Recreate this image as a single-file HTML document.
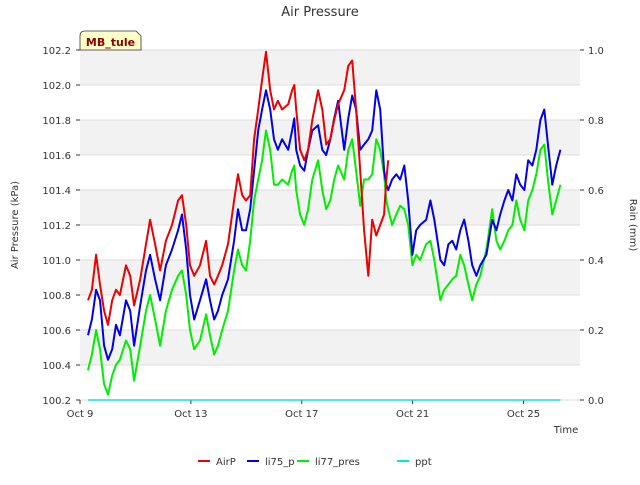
<!DOCTYPE html>
<html><head><meta charset="utf-8"><style>
body{margin:0;background:#fff;font-family:"Liberation Sans","DejaVu Sans",sans-serif}
svg text{font-family:"DejaVu Sans","Liberation Sans",sans-serif}
</style></head><body>
<svg id="chart" width="640" height="480" xmlns="http://www.w3.org/2000/svg">
<g id="bands"></g>
<g id="grid"></g>
<g id="axes"></g>
<g id="series"></g>
<text x="320" y="16" text-anchor="middle" font-size="13" fill="#333">Air Pressure</text>
<text transform="translate(18,225) rotate(-90)" text-anchor="middle" font-size="10" fill="#333">Air Pressure (kPa)</text>
<text transform="translate(630,225) rotate(90)" text-anchor="middle" font-size="10" fill="#333">Rain (mm)</text>
<text x="566" y="433" text-anchor="middle" font-size="10" fill="#333">Time</text>
<g>
<path d="M80,50 L80,36 Q80,31 85,31 L136,31 L141,36 L141,50 Z" fill="#ffffc8" stroke="#333" stroke-width="0.8"/>
<text x="110.5" y="46" text-anchor="middle" font-size="11" font-weight="bold" fill="#8b0000">MB_tule</text>
</g>
<g id="legend"></g>
</svg>
<script>
const days=[0.29,0.43,0.58,0.72,0.87,1.01,1.16,1.30,1.44,1.66,1.81,1.95,2.17,2.38,2.53,2.71,2.89,3.10,3.32,3.54,3.68,3.83,3.97,4.12,4.33,4.55,4.69,4.84,4.98,5.13,5.34,5.56,5.70,5.85,5.99,6.14,6.28,6.43,6.57,6.71,6.86,7.00,7.14,7.29,7.51,7.65,7.73,7.80,7.94,8.09,8.23,8.38,8.59,8.74,8.88,9.03,9.17,9.31,9.53,9.68,9.82,9.96,10.11,10.25,10.40,10.54,10.69,10.83,10.97,11.05,11.12,11.26,11.41,11.55,11.70,11.84,11.99,12.13,12.27,12.49,12.64,12.78,13.00,13.14,13.29,13.43,13.57,13.72,13.86,14.01,14.15,14.30,14.44,14.66,14.87,15.02,15.16,15.31,15.45,15.60,15.74,15.88,16.03,16.17,16.32,16.46,16.61,16.75,16.90,17.04,17.18,17.33];
const airP=[100.77,100.83,101.03,100.86,100.71,100.63,100.77,100.83,100.80,100.97,100.91,100.74,100.89,101.09,101.23,101.09,100.94,101.11,101.20,101.34,101.37,101.20,100.97,100.91,100.97,101.11,100.91,100.86,100.91,100.97,101.09,101.34,101.49,101.37,101.34,101.37,101.69,101.86,102.03,102.19,101.97,101.86,101.91,101.86,101.89,101.97,102.00,101.86,101.63,101.57,101.63,101.80,101.97,101.86,101.66,101.69,101.80,101.89,101.97,102.11,102.14,101.86,101.51,101.17,100.91,101.23,101.14,101.20,101.26,101.46,101.57];
const li75=[100.57,100.66,100.83,100.77,100.51,100.43,100.49,100.63,100.57,100.77,100.71,100.51,100.74,100.94,101.03,100.89,100.77,100.97,101.06,101.17,101.26,101.06,100.80,100.66,100.77,100.89,100.77,100.66,100.71,100.80,100.89,101.11,101.29,101.17,101.17,101.29,101.51,101.74,101.86,101.97,101.86,101.69,101.63,101.69,101.63,101.74,101.81,101.63,101.54,101.51,101.63,101.74,101.77,101.63,101.60,101.69,101.81,101.91,101.63,101.81,101.94,101.86,101.63,101.66,101.69,101.74,101.97,101.86,101.51,101.43,101.40,101.46,101.49,101.46,101.54,101.34,101.03,101.17,101.20,101.23,101.34,101.23,101.00,100.97,101.09,101.11,101.06,101.17,101.23,101.11,100.97,100.91,100.97,101.03,101.23,101.17,101.26,101.34,101.40,101.34,101.49,101.43,101.40,101.57,101.54,101.63,101.80,101.86,101.63,101.43,101.54,101.63];
const li77=[100.37,100.46,100.60,100.49,100.29,100.23,100.34,100.40,100.43,100.54,100.49,100.31,100.51,100.71,100.80,100.66,100.51,100.71,100.83,100.91,100.94,100.80,100.60,100.49,100.54,100.69,100.57,100.46,100.51,100.60,100.71,100.94,101.06,100.97,100.94,101.11,101.34,101.46,101.57,101.74,101.63,101.43,101.43,101.46,101.43,101.51,101.54,101.40,101.26,101.20,101.29,101.46,101.57,101.40,101.29,101.34,101.46,101.54,101.46,101.63,101.69,101.51,101.31,101.46,101.46,101.49,101.69,101.63,101.49,101.34,101.29,101.20,101.26,101.31,101.29,101.20,100.97,101.03,101.00,101.09,101.11,101.00,100.77,100.83,100.86,100.89,100.91,101.03,100.97,100.86,100.77,100.86,100.91,101.06,101.29,101.11,101.06,101.11,101.17,101.20,101.34,101.23,101.17,101.34,101.40,101.49,101.63,101.66,101.43,101.26,101.34,101.43];
const pptDays=[0.29,17.33];
const ppt=[0,0];
const yTicks=[100.2,100.4,100.6,100.8,101.0,101.2,101.4,101.6,101.8,102.0,102.2];
const y2Ticks=[0,0.2,0.4,0.6,0.8,1.0];
const xTickDays=[0,4,8,12,16];
const xTickLabels=["Oct 9","Oct 13","Oct 17","Oct 21","Oct 25"];
const NS="http://www.w3.org/2000/svg";
const L=80,R=580,T=50,B=400;
const x=d=>L+d*27.72;
const y=v=>B-(v-100.2)*175;
const y2=v=>B-v*350;
function mk(tag,parent){const e=document.createElementNS(NS,tag);document.getElementById(parent).appendChild(e);return e;}
for(let i=0;i<yTicks.length-1;i++){
  if(i%2===1){const r=mk('rect','bands');
    
    
    r.setAttribute('x',L);r.setAttribute('width',R-L);
    r.setAttribute('y',y(yTicks[i+1]));r.setAttribute('height',y(yTicks[i])-y(yTicks[i+1]));r.setAttribute('fill','#f2f2f2');}
}
yTicks.forEach(v=>{
  const g=mk('line','grid');
  
  
  g.setAttribute('x1',L);g.setAttribute('x2',R);g.setAttribute('y1',y(v));g.setAttribute('y2',y(v));g.setAttribute('stroke','#dcdcdc');g.setAttribute('stroke-width','1');
  const t=mk('line','axes');
  
  
  t.setAttribute('x1',L-4);t.setAttribute('x2',L);t.setAttribute('y1',y(v));t.setAttribute('y2',y(v));t.setAttribute('stroke','#333');
  const tx=mk('text','axes');
  
  
  tx.setAttribute('x',L-9);tx.setAttribute('y',y(v)+4);tx.setAttribute('text-anchor','end');tx.setAttribute('font-size','10');tx.setAttribute('fill','#333');tx.textContent=v.toFixed(1);
});
y2Ticks.forEach(v=>{
  const t=mk('line','axes');
  
  
  t.setAttribute('x1',R);t.setAttribute('x2',R+4);t.setAttribute('y1',y2(v));t.setAttribute('y2',y2(v));t.setAttribute('stroke','#333');
  const tx=mk('text','axes');
  
  
  tx.setAttribute('x',R+8);tx.setAttribute('y',y2(v)+4);tx.setAttribute('font-size','10');tx.setAttribute('fill','#333');tx.textContent=v.toFixed(1);
});
xTickDays.forEach((d,i)=>{
  const t=mk('line','axes');
  
  
  t.setAttribute('x1',x(d));t.setAttribute('x2',x(d));t.setAttribute('y1',B);t.setAttribute('y2',B+4);t.setAttribute('stroke','#333');
  const tx=mk('text','axes');
  
  
  tx.setAttribute('x',x(d));tx.setAttribute('y',B+17);tx.setAttribute('text-anchor','middle');tx.setAttribute('font-size','10');tx.setAttribute('fill','#333');tx.textContent=xTickLabels[i];
});
function line(ds,vs,fy,color,name,w){
  const p=mk('polyline','series');
  
  
  p.setAttribute('points',vs.map((v,i)=>x(ds[i]).toFixed(1)+','+fy(v).toFixed(1)).join(' '));
  p.setAttribute('fill','none');p.setAttribute('stroke',color);p.setAttribute('stroke-width',w);p.setAttribute('stroke-linejoin','round');
}
line(days,li77,y,'#00ee00','li77-pres-line','2');
line(days,li75,y,'#0000ee','li75-p-line','2');
line(days,airP,y,'#ee0000','airp-line','2');
line(pptDays,ppt,y2,'#00e5ee','ppt-line','1.5');
const legNames=["AirP","li75_p","li77_pres","ppt"];
const legColors=["#ee0000","#0000ee","#00ee00","#00e5ee"];
const legX=[198,247,297,397];
legNames.forEach((n,i)=>{
  const l=mk('line','legend');
  
  
  l.setAttribute('x1',legX[i]);l.setAttribute('x2',legX[i]+12);l.setAttribute('y1',461);l.setAttribute('y2',461);l.setAttribute('stroke',legColors[i]);l.setAttribute('stroke-width','2');
  const t=mk('text','legend');
  
  
  t.setAttribute('x',legX[i]+18);t.setAttribute('y',465);t.setAttribute('font-size','10');t.setAttribute('fill','#333');t.textContent=n;
});
</script>
</body></html>
